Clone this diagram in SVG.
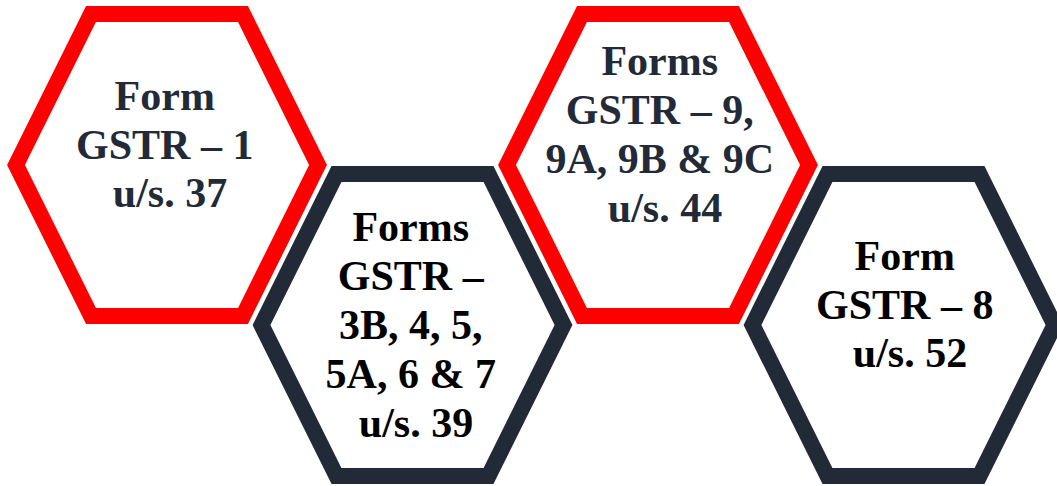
<svg xmlns="http://www.w3.org/2000/svg" width="1057" height="486" viewBox="0 0 1057 486">
  <defs>
    <style>
      .hex { fill: none; stroke-width: 16; stroke-linejoin: miter; }
      .red { stroke: #FF0000; }
      .navy { stroke: #222A38; }
      .label { font-family: "Liberation Serif", "Times New Roman", serif; font-weight: bold; font-size: 42px; text-anchor: middle; }
      .t-navy { fill: #222A38; }
      .t-black { fill: #000000; }
    </style>
    <!-- hexagon outline, centreline of the stroke -->
    <polygon id="hexShape" points="16,165 91,14 243,14 318,165 243,316 91,316"/>
  </defs>
  <rect width="1057" height="486" fill="#FFFFFF"/>

  <g id="connectors"></g>

  <g id="gstr1">
    <use href="#hexShape" class="hex red"/>
    <text class="label t-navy">
      <tspan x="170" y="110">Form</tspan>
      <tspan x="170" y="159">GSTR – 1</tspan>
      <tspan x="170" y="207">u/s. 37</tspan>
    </text>
  </g>

  <g id="gstr3b">
    <use href="#hexShape" class="hex navy" transform="translate(245.5,160)"/>
    <text class="label t-black">
      <tspan x="416" y="241">Forms</tspan>
      <tspan x="416" y="290">GSTR –</tspan>
      <tspan x="416" y="339">3B, 4, 5,</tspan>
      <tspan x="416" y="388">5A, 6 &amp; 7</tspan>
      <tspan x="416" y="437">u/s. 39</tspan>
    </text>
  </g>

  <g id="gstr9">
    <use href="#hexShape" class="hex red" transform="translate(491,0)"/>
    <text class="label t-navy">
      <tspan x="665" y="75">Forms</tspan>
      <tspan x="665" y="124">GSTR – 9,</tspan>
      <tspan x="665" y="173">9A, 9B &amp; 9C</tspan>
      <tspan x="665" y="222">u/s. 44</tspan>
    </text>
  </g>

  <g id="gstr8">
    <use href="#hexShape" class="hex navy" transform="translate(736.5,160)"/>
    <text class="label t-black">
      <tspan x="910" y="270">Form</tspan>
      <tspan x="910" y="319">GSTR – 8</tspan>
      <tspan x="910" y="367">u/s. 52</tspan>
    </text>
  </g>
</svg>
